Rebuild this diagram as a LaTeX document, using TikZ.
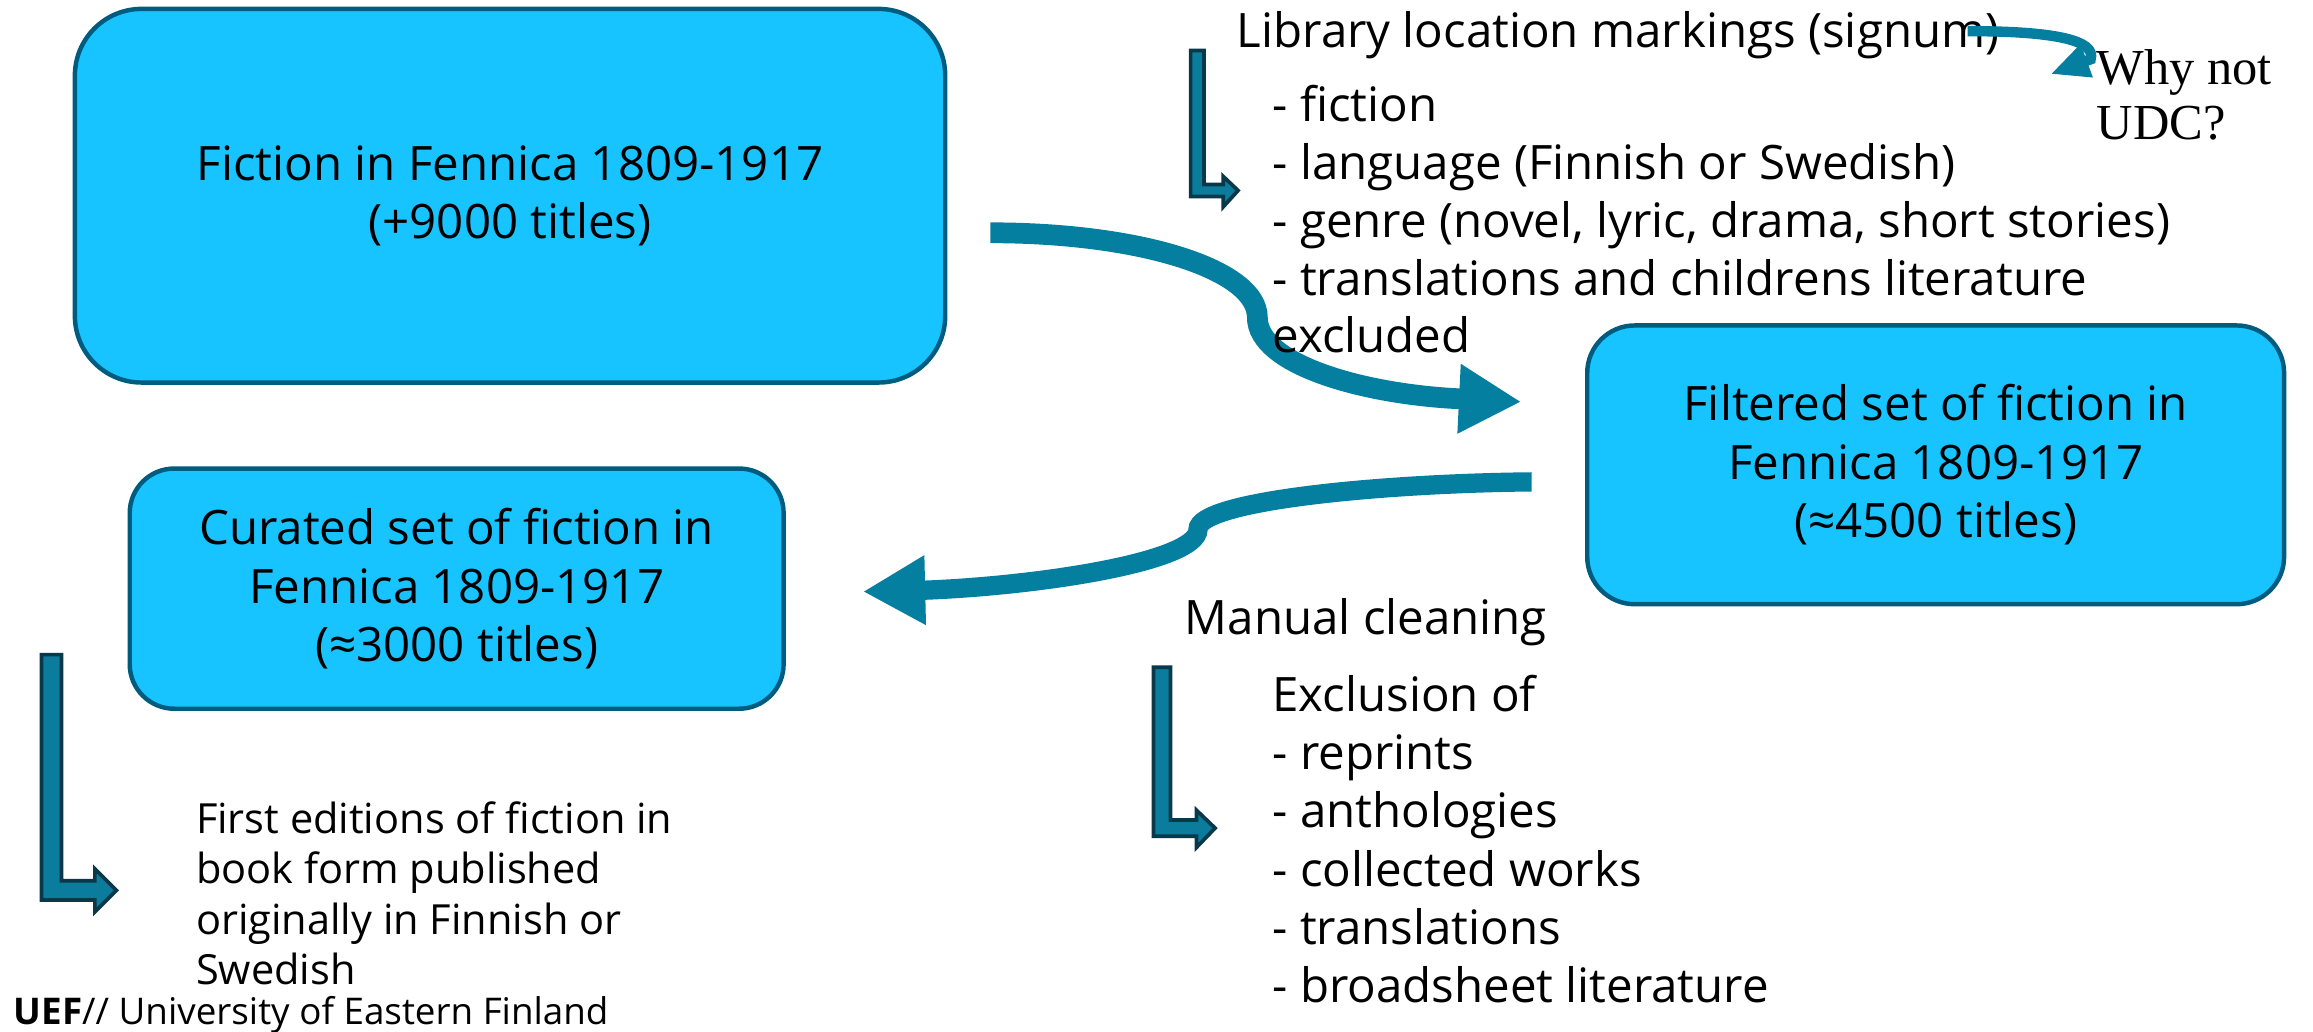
\documentclass[tikz,border=0pt]{standalone}
\usepackage{fontspec}
\setmainfont{Open Sans}
\newfontfamily\whyfont{Liberation Serif}
\usetikzlibrary{arrows.meta}
\definecolor{boxfill}{HTML}{18C4FF}
\definecolor{boxborder}{HTML}{005C7E}
\definecolor{arrowteal}{HTML}{047FA0}
\definecolor{bentfill}{HTML}{0B7C9C}
\definecolor{bentdraw}{HTML}{08384A}
\begin{document}
\begin{tikzpicture}[x=1pt,y=-1pt,
  flowbox/.style={draw=boxborder, line width=3pt, fill=boxfill, align=center, inner sep=0pt,
    font=\fontsize{32}{39.5}\selectfont},
  txt/.style={anchor=base west, inner sep=0pt, font=\fontsize{32}{39.5}\selectfont},
  smalltxt/.style={anchor=base west, inner sep=0pt, font=\fontsize{28}{34}\selectfont},
  whytxt/.style={anchor=base west, inner sep=0pt, font=\whyfont\fontsize{34}{37}\selectfont},
  flowarrow/.style={draw=arrowteal, line width=14pt, -{Triangle[length=42pt,width=44pt]}},
  whyarrow/.style={draw=arrowteal, line width=7pt, -{Triangle[length=26pt,width=22pt]}},
  bentarrow/.style={fill=bentfill, draw=bentdraw, line width=2.5pt, line join=miter}]
\useasboundingbox (0,0) rectangle (1560,696);

% boxes
\node[flowbox, rounded corners=45pt, minimum width=587pt, minimum height=252pt] (fic) at (344,132)
  {Fiction in Fennica 1809-1917\\(+9000 titles)};
\node[flowbox, rounded corners=32pt, minimum width=470pt, minimum height=188pt] (fil) at (1305.5,313.5)
  {Filtered set of fiction in\\Fennica 1809-1917\\(≈4500 titles)};
\node[flowbox, rounded corners=30pt, minimum width=441pt, minimum height=162pt] (cur) at (308,397)
  {Curated set of fiction in\\Fennica 1809-1917\\(≈3000 titles)};

% connector coordinates
\coordinate (a1s) at (668,157);
\coordinate (a1k) at (848,214);
\coordinate (a1e) at (985,269);
\coordinate (a1t) at (1026,271);
\coordinate (a2s) at (1033,325);
\coordinate (a2k) at (808,357);
\coordinate (a2e) at (625,398);
\coordinate (a2t) at (582,399);

% big curved arrows
\draw[flowarrow] (a1s) .. controls (770,157) and (848,182) .. (a1k)
  .. controls (848,246) and (920,266) .. (a1e) -- (a1t);
\draw[flowarrow, line width=13pt] (a2s) .. controls (930,326) and (808,338) .. (a2k)
  .. controls (808,379) and (700,395) .. (a2e) -- (a2t);

% top-right text
\node[txt] (lib) at (834,32) {Library location markings (signum)};
\node[txt] (l11) at (858,82) {- fiction};
\node[txt] (l12) at (858,121) {- language (Finnish or Swedish)};
\node[txt] (l13) at (858,160) {- genre (novel, lyric, drama, short stories)};
\node[txt] (l14) at (858,199) {- translations and childrens literature};
\node[txt] (l15) at (858,238) {excluded};

% manual cleaning text
\node[txt] (man) at (799,428) {Manual cleaning};
\node[txt] (l21) at (858,480) {Exclusion of};
\node[txt] (l22) at (858,519) {- reprints};
\node[txt] (l23) at (858,558) {- anthologies};
\node[txt] (l24) at (858,598) {- collected works};
\node[txt] (l25) at (858,637) {- translations};
\node[txt] (l26) at (858,676) {- broadsheet literature};

% bottom-left text
\node[smalltxt] (f1) at (132,562) {First editions of fiction in};
\node[smalltxt] (f2) at (132,596) {book form published};
\node[smalltxt] (f3) at (132,630) {originally in Finnish or};
\node[smalltxt] (f4) at (132,664) {Swedish};

% why not UDC
\node[whytxt] (why1) at (1414,57) {Why not};
\node[whytxt] (why2) at (1414,94) {UDC?};
\coordinate (ws) at (1327,21);
\coordinate (wk) at (1410,40);
\coordinate (wt) at (1383,50);
\draw[whyarrow] (ws) .. controls (1385,21) and (1414,27) .. (wk) -- (wt);

% bent arrows
\draw[bentarrow] (803,34) -- (812,34) -- (812,124.5) -- (825,124.5) -- (825,119) -- (835,128.5)
  -- (825,139.5) -- (825,132.5) -- (803,132.5) -- cycle;
\draw[bentarrow] (778,450) -- (789.5,450) -- (789.5,553) -- (807,553) -- (807,546.5) -- (819.5,558.5)
  -- (807,571.5) -- (807,564) -- (778,564) -- cycle;
\draw[bentarrow] (28,441.5) -- (41.5,441.5) -- (41.5,594) -- (64,594) -- (64,586) -- (78.5,600.5)
  -- (64,615) -- (64,607) -- (28,607) -- cycle;

% footer
\node[anchor=base west, inner sep=0pt, font=\fontsize{24.8}{28}\selectfont] (uef) at (9,691)
  {\textbf{UEF}// University of Eastern Finland};
\end{tikzpicture}
\end{document}
